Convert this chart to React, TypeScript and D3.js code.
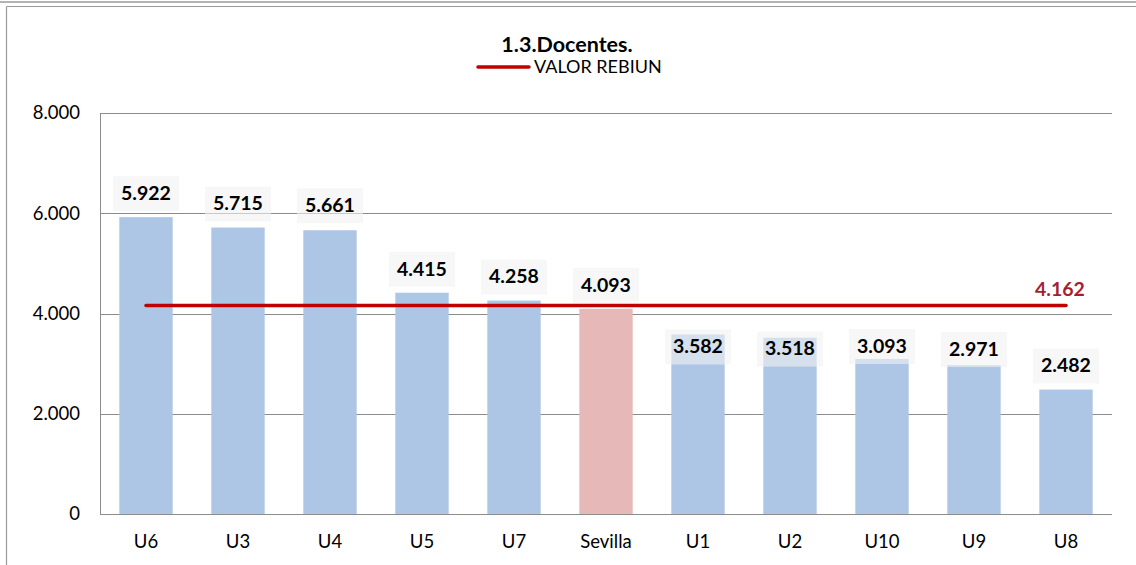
import React, { useEffect, useRef } from "react";
import * as d3 from "d3";

const categories = ["U6", "U3", "U4", "U5", "U7", "Sevilla", "U1", "U2", "U10", "U9", "U8"];
const values = [5922, 5715, 5661, 4415, 4258, 4093, 3582, 3518, 3093, 2971, 2482];
const highlight = "Sevilla";
const rebiunValue = 4162;
const yTicks = [0, 2000, 4000, 6000, 8000];
// label centre offset from bar top (px), as placed in the original
const labelOffsets = [-24, -24, -25, -24, -24, -24, 12, 11, -13, -16, -24];

const W = 1136;
const H = 565;
const M = { left: 100, right: 24, top: 113, bottom: 51 };
const FONT = "Lato, 'Open Sans', sans-serif";

export default function App() {
  const ref = useRef<SVGSVGElement>(null);

  useEffect(() => {
    const svg = d3.select(ref.current);
    svg.selectAll("*").remove();

    const locale = d3.formatLocale({ decimal: ",", thousands: ".", grouping: [3], currency: ["", "€"] });
    const fmt = locale.format(",d");

    const x = d3
      .scaleBand<string>()
      .domain(categories)
      .range([M.left, W - M.right])
      .paddingInner(0.42)
      .paddingOuter(0.21);
    const y = d3.scaleLinear().domain([0, 8000]).range([H - M.bottom, M.top]);

    // frame
    svg.append("line").attr("x1", 0).attr("x2", W).attr("y1", 2).attr("y2", 2).attr("stroke", "#9a9a9a").attr("stroke-width", 1.5);
    svg.append("line").attr("x1", 6.5).attr("x2", W).attr("y1", 6.5).attr("y2", 6.5).attr("stroke", "#9a9a9a").attr("stroke-width", 1.2);
    svg.append("line").attr("x1", 6.5).attr("x2", 6.5).attr("y1", 6.5).attr("y2", H).attr("stroke", "#9a9a9a").attr("stroke-width", 1.2);

    // gridlines
    svg
      .append("g")
      .selectAll("line")
      .data(yTicks)
      .join("line")
      .attr("x1", M.left)
      .attr("x2", W - M.right)
      .attr("y1", (d) => Math.round(y(d)) + 0.5)
      .attr("y2", (d) => Math.round(y(d)) + 0.5)
      .attr("stroke", "#8c8c8c")
      .attr("stroke-width", 1);
    svg
      .append("line")
      .attr("x1", M.left + 0.5)
      .attr("x2", M.left + 0.5)
      .attr("y1", y(8000))
      .attr("y2", y(0) + 0.5)
      .attr("stroke", "#8c8c8c");

    // y labels
    svg
      .append("g")
      .selectAll("text")
      .data(yTicks)
      .join("text")
      .attr("x", 80)
      .attr("y", (d) => y(d))
      .attr("dy", "0.35em")
      .attr("text-anchor", "end")
      .attr("font-family", FONT)
      .attr("font-size", 18.5)
      .attr("fill", "#000")
      .text((d) => fmt(d));

    // x labels
    svg
      .append("g")
      .selectAll("text")
      .data(categories)
      .join("text")
      .attr("x", (d) => (x(d) as number) + x.bandwidth() / 2)
      .attr("y", H - M.bottom + 28)
      .attr("dy", "0.35em")
      .attr("text-anchor", "middle")
      .attr("font-family", FONT)
      .attr("font-size", 18.5)
      .attr("fill", "#000")
      .text((d) => d);

    // bars
    svg
      .append("g")
      .selectAll("rect")
      .data(values)
      .join("rect")
      .attr("x", (_, i) => x(categories[i]) as number)
      .attr("y", (d) => y(d))
      .attr("width", x.bandwidth())
      .attr("height", (d) => y(0) - y(d))
      .attr("fill", (_, i) => (categories[i] === highlight ? "#e6b9b8" : "#adc6e5"));

    // reference line
    const first = (x(categories[0]) as number) + x.bandwidth() / 2;
    const last = (x(categories[categories.length - 1]) as number) + x.bandwidth() / 2;
    svg
      .append("line")
      .attr("x1", first)
      .attr("x2", last)
      .attr("y1", y(rebiunValue))
      .attr("y2", y(rebiunValue))
      .attr("stroke", "#c00000")
      .attr("stroke-width", 3.5)
      .attr("stroke-linecap", "round");
    svg
      .append("text")
      .attr("x", last - 6)
      .attr("y", y(rebiunValue) - 16)
      .attr("dy", "0.35em")
      .attr("text-anchor", "middle")
      .attr("font-family", FONT)
      .attr("font-weight", "bold")
      .attr("font-size", 19.5)
      .attr("fill", "#a21f34")
      .text(fmt(rebiunValue));

    // value labels
    const lg = svg.append("g");
    values.forEach((v, i) => {
      const cx = (x(categories[i]) as number) + x.bandwidth() / 2;
      const cy = y(v) + labelOffsets[i];
      lg.append("rect")
        .attr("x", cx - 33)
        .attr("y", cy - 17)
        .attr("width", 66)
        .attr("height", 35)
        .attr("fill", "#f2f2f2")
        .attr("fill-opacity", 0.6);
      lg.append("text")
        .attr("x", cx)
        .attr("y", cy)
        .attr("dy", "0.35em")
        .attr("text-anchor", "middle")
        .attr("font-family", FONT)
        .attr("font-weight", "bold")
        .attr("font-size", 19.5)
        .attr("fill", "#000")
        .text(fmt(v));
    });

    // title
    svg
      .append("text")
      .attr("x", 567)
      .attr("y", 44)
      .attr("dy", "0.35em")
      .attr("text-anchor", "middle")
      .attr("font-family", FONT)
      .attr("font-weight", "bold")
      .attr("font-size", 21.5)
      .attr("fill", "#000")
      .text("1.3.Docentes.");

    // legend
    svg
      .append("line")
      .attr("x1", 478)
      .attr("x2", 529)
      .attr("y1", 67)
      .attr("y2", 67)
      .attr("stroke", "#c00000")
      .attr("stroke-width", 3.5)
      .attr("stroke-linecap", "round");
    svg
      .append("text")
      .attr("x", 534)
      .attr("y", 67)
      .attr("dy", "0.35em")
      .attr("font-family", FONT)
      .attr("font-size", 18)
      .attr("fill", "#000")
      .text("VALOR REBIUN");
  }, []);

  return (
    <svg
      ref={ref}
      width={W}
      height={H}
      style={{ position: "absolute", left: 0, top: 0, background: "#fff" }}
    />
  );
}
